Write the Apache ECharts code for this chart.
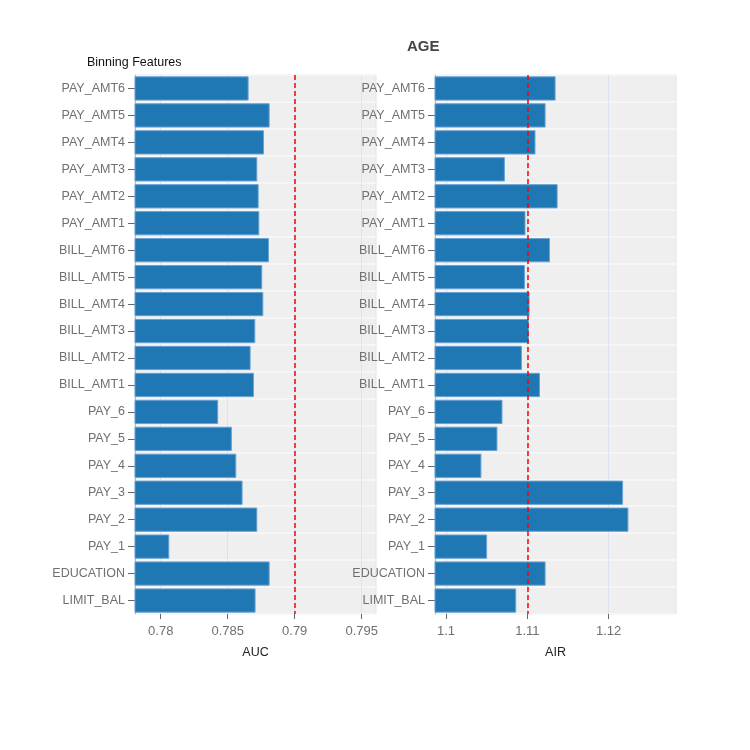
<!DOCTYPE html>
<html>
<head>
<meta charset="utf-8">
<script src="https://cdn.jsdelivr.net/npm/echarts@6/dist/echarts.min.js"></script>
<style>html,body{margin:0;padding:0;background:#fff}#c{width:750px;height:750px}</style>
</head>
<body>
<div id="c"></div>
<script>
const categories = ['PAY_AMT6','PAY_AMT5','PAY_AMT4','PAY_AMT3','PAY_AMT2','PAY_AMT1','BILL_AMT6','BILL_AMT5','BILL_AMT4','BILL_AMT3','BILL_AMT2','BILL_AMT1','PAY_6','PAY_5','PAY_4','PAY_3','PAY_2','PAY_1','EDUCATION','LIMIT_BAL'];
const aucValues = [0.78656,0.78813,0.78771,0.78721,0.78731,0.78736,0.78808,0.78758,0.78766,0.78706,0.78671,0.78696,0.78429,0.78531,0.78564,0.78611,0.78721,0.78064,0.78813,0.78708];
const airValues = [1.11347,1.11224,1.11100,1.10723,1.11372,1.10977,1.11278,1.10970,1.11027,1.11019,1.10933,1.11155,1.10694,1.10632,1.10435,1.12177,1.12243,1.10505,1.11224,1.10863];
const aucTicks = [0.78,0.785,0.79,0.795];
const airTicks = [1.1,1.11,1.12];
const aucThreshold = 0.79;
const airThreshold = 1.11;
const titleText = 'AGE';
const subtitleText = 'Binning Features';

const FONT = 'Liberation Sans, Arial, sans-serif';
const chart = echarts.init(document.getElementById('c'), null, {renderer:'canvas'});

function xAxisCfg(idx, name, min, max, ticks) {
  return {
    type:'value', gridIndex: idx, name: name, nameLocation:'middle', nameGap: 32,
    nameTextStyle:{color:'#222', fontSize:12.5, fontFamily:FONT},
    min:min, max:max,
    axisLine:{show:false},
    axisTick:{show:true, length:5, lineStyle:{color:'#666'}, customValues: ticks},
    axisLabel:{color:'#707070', fontSize:13, fontFamily:FONT, margin:11, customValues: ticks,
      formatter: v => String(Math.round(v*1000)/1000)},
    splitLine:{show:true, lineStyle:{color:'#dde3ee', width:1}}
  };
}
function yAxisCfg(idx) {
  return {
    type:'category', gridIndex: idx, data: categories, inverse: true,
    axisLine:{show:true, lineStyle:{color:'#bbb'}},
    axisTick:{show:true, alignWithLabel:true, length:7, lineStyle:{color:'#666'}},
    axisLabel:{color:'#707070', fontSize:12.5, fontFamily:FONT, margin:10},
    splitLine:{show:true, lineStyle:{color:'#f8f9fc', width:1.5}}
  };
}
function barSeries(idx, values, thr) {
  return {
    type:'bar', xAxisIndex: idx, yAxisIndex: idx, data: values,
    barCategoryGap:'10%',
    itemStyle:{color:'#1f77b4', borderColor:'#6aa2d2', borderWidth:1},
    markLine:{
      silent:true, symbol:['none','none'], label:{show:false}, z:10,
      itemStyle:{color:'#ff0000'},
      lineStyle:{color:'#ff0000', type:[5,3], width:1.5, opacity:1},
      emphasis:{disabled:true},
      data:[{xAxis: thr, lineStyle:{color:'#ff0000', type:[5,3], width:1.5}}]
    }
  };
}

chart.setOption({
  animation:false,
  backgroundColor:'#fff',
  title:[
    {text:titleText, left:407, top:39, padding:0, textStyle:{fontSize:15, fontWeight:'bold', color:'#444', fontFamily:FONT}},
    {text:subtitleText, left:87, top:56, padding:0, textStyle:{fontSize:12.5, fontWeight:'normal', color:'#111', fontFamily:FONT}}
  ],
  grid:[
    {left:135, top:75, width:241, height:539, show:true, backgroundColor:'#efefef', borderColor:'#dde3ee', borderWidth:1},
    {left:435, top:75, width:241, height:539, show:true, backgroundColor:'#efefef', borderColor:'#dde3ee', borderWidth:1}
  ],
  xAxis:[
    xAxisCfg(0,'AUC',0.77808,0.79607,aucTicks),
    xAxisCfg(1,'AIR',1.09864,1.12828,airTicks)
  ],
  yAxis:[yAxisCfg(0), yAxisCfg(1)],
  series:[barSeries(0, aucValues, aucThreshold), barSeries(1, airValues, airThreshold)]
});
</script>
</body>
</html>
